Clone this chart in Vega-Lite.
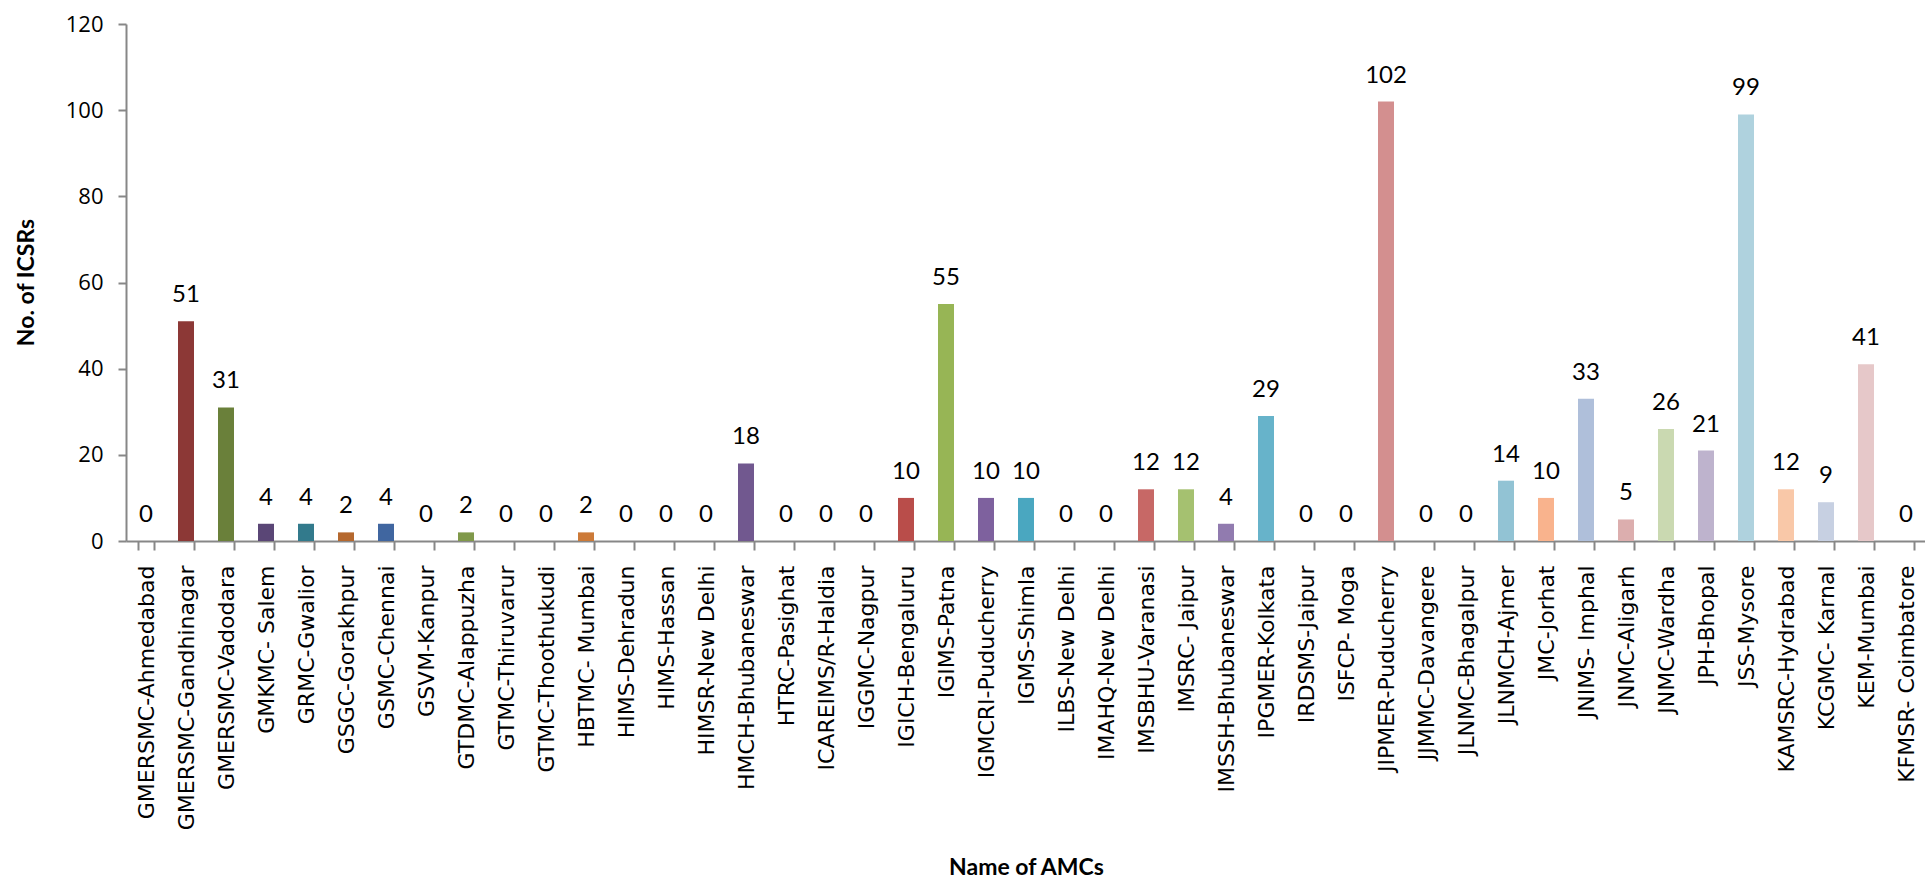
{
  "$schema": "https://vega.github.io/schema/vega-lite/v6.json",
  "width": 1800,
  "height": 517,
  "autosize": "none",
  "padding": {"left": 126, "top": 24, "right": 0, "bottom": 337},
  "background": "white",
  "config": {"view": {"stroke": null}},
  "data": {
    "values": [
      {"name": "GMERSMC-Ahmedabad", "icsrs": 0},
      {"name": "GMERSMC-Gandhinagar", "icsrs": 51},
      {"name": "GMERSMC-Vadodara", "icsrs": 31},
      {"name": "GMKMC- Salem", "icsrs": 4},
      {"name": "GRMC-Gwalior", "icsrs": 4},
      {"name": "GSGC-Gorakhpur", "icsrs": 2},
      {"name": "GSMC-Chennai", "icsrs": 4},
      {"name": "GSVM-Kanpur", "icsrs": 0},
      {"name": "GTDMC-Alappuzha", "icsrs": 2},
      {"name": "GTMC-Thiruvarur", "icsrs": 0},
      {"name": "GTMC-Thoothukudi", "icsrs": 0},
      {"name": "HBTMC- Mumbai", "icsrs": 2},
      {"name": "HIMS-Dehradun", "icsrs": 0},
      {"name": "HIMS-Hassan", "icsrs": 0},
      {"name": "HIMSR-New Delhi", "icsrs": 0},
      {"name": "HMCH-Bhubaneswar", "icsrs": 18},
      {"name": "HTRC-Pasighat", "icsrs": 0},
      {"name": "ICAREIMS/R-Haldia", "icsrs": 0},
      {"name": "IGGMC-Nagpur", "icsrs": 0},
      {"name": "IGICH-Bengaluru", "icsrs": 10},
      {"name": "IGIMS-Patna", "icsrs": 55},
      {"name": "IGMCRI-Puducherry", "icsrs": 10},
      {"name": "IGMS-Shimla", "icsrs": 10},
      {"name": "ILBS-New Delhi", "icsrs": 0},
      {"name": "IMAHQ-New Delhi", "icsrs": 0},
      {"name": "IMSBHU-Varanasi", "icsrs": 12},
      {"name": "IMSRC- Jaipur", "icsrs": 12},
      {"name": "IMSSH-Bhubaneswar", "icsrs": 4},
      {"name": "IPGMER-Kolkata", "icsrs": 29},
      {"name": "IRDSMS-Jaipur", "icsrs": 0},
      {"name": "ISFCP- Moga", "icsrs": 0},
      {"name": "JIPMER-Puducherry", "icsrs": 102},
      {"name": "JJMMC-Davangere", "icsrs": 0},
      {"name": "JLNMC-Bhagalpur", "icsrs": 0},
      {"name": "JLNMCH-Ajmer", "icsrs": 14},
      {"name": "JMC-Jorhat", "icsrs": 10},
      {"name": "JNIMS- Imphal", "icsrs": 33},
      {"name": "JNMC-Aligarh", "icsrs": 5},
      {"name": "JNMC-Wardha", "icsrs": 26},
      {"name": "JPH-Bhopal", "icsrs": 21},
      {"name": "JSS-Mysore", "icsrs": 99},
      {"name": "KAMSRC-Hydrabad", "icsrs": 12},
      {"name": "KCGMC- Karnal", "icsrs": 9},
      {"name": "KEM-Mumbai", "icsrs": 41},
      {"name": "KFMSR- Coimbatore", "icsrs": 0}
    ]
  },
  "encoding": {
    "x": {
      "field": "name",
      "type": "nominal",
      "sort": null,
      "scale": {"paddingInner": 0.6, "paddingOuter": 0.3},
      "axis": {
        "title": "Name of AMCs",
        "titleFont": "Lato",
        "titleFontWeight": "bold",
        "titleFontSize": 23,
        "titleColor": "#000000",
        "titleX": 900,
        "titleY": 333,
        "titleAlign": "center",
        "titleBaseline": "alphabetic",
        "labelAngle": -90,
        "labelAlign": "right",
        "labelBaseline": "middle",
        "labelFont": "DejaVu Sans",
        "labelFontSize": 22,
        "labelColor": "#000000",
        "labelPadding": 15,
        "labelLimit": 0,
        "labelOverlap": false,
        "tickBand": "extent",
        "tickSize": 9,
        "tickWidth": 2,
        "tickColor": "#878787",
        "domainColor": "#878787",
        "domainWidth": 2
      }
    }
  },
  "layer": [
    {
      "mark": {"type": "bar"},
      "encoding": {
        "y": {
          "field": "icsrs",
          "type": "quantitative",
          "scale": {"domain": [0, 120], "nice": false},
          "axis": {
            "title": "No. of ICSRs",
            "titleFont": "Lato",
            "titleFontWeight": "bold",
            "titleFontSize": 23,
            "titleColor": "#000000",
            "titleAngle": -90,
            "titleX": -93,
            "titleY": 258,
            "titleAlign": "center",
            "titleBaseline": "alphabetic",
            "values": [0, 20, 40, 60, 80, 100, 120],
            "grid": false,
            "labelFont": "Open Sans",
            "labelFontSize": 22,
            "labelColor": "#000000",
            "labelPadding": 15,
            "tickSize": 8,
            "tickWidth": 2,
            "tickColor": "#878787",
            "domainColor": "#878787",
            "domainWidth": 2
          }
        },
        "color": {
          "field": "name",
          "type": "nominal",
          "legend": null,
          "scale": {
            "domain": ["GMERSMC-Ahmedabad","GMERSMC-Gandhinagar","GMERSMC-Vadodara","GMKMC- Salem","GRMC-Gwalior","GSGC-Gorakhpur","GSMC-Chennai","GSVM-Kanpur","GTDMC-Alappuzha","GTMC-Thiruvarur","GTMC-Thoothukudi","HBTMC- Mumbai","HIMS-Dehradun","HIMS-Hassan","HIMSR-New Delhi","HMCH-Bhubaneswar","HTRC-Pasighat","ICAREIMS/R-Haldia","IGGMC-Nagpur","IGICH-Bengaluru","IGIMS-Patna","IGMCRI-Puducherry","IGMS-Shimla","ILBS-New Delhi","IMAHQ-New Delhi","IMSBHU-Varanasi","IMSRC- Jaipur","IMSSH-Bhubaneswar","IPGMER-Kolkata","IRDSMS-Jaipur","ISFCP- Moga","JIPMER-Puducherry","JJMMC-Davangere","JLNMC-Bhagalpur","JLNMCH-Ajmer","JMC-Jorhat","JNIMS- Imphal","JNMC-Aligarh","JNMC-Wardha","JPH-Bhopal","JSS-Mysore","KAMSRC-Hydrabad","KCGMC- Karnal","KEM-Mumbai","KFMSR- Coimbatore"],
            "range": ["#385D8A","#8C3836","#6A803A","#5A4676","#327A8C","#B5682E","#4066A0","#B24A48","#80994A","#6F5790","#3F9AB1","#CC7A38","#4F81BD","#C0504D","#9BBB59","#71588F","#4BACC6","#F79646","#5B8ACB","#B94D4A","#97B555","#7E619E","#4AA7C0","#F6A05E","#7C9CD1","#C76866","#A5C170","#917BAF","#67B3CA","#F8A773","#95ADD5","#D38F8F","#B7CE8D","#A897BF","#92C3D4","#F9B38D","#AFBFDA","#DCAEAE","#CAD9B1","#BEB3CD","#AFD2DE","#F9C8A8","#C7D0E2","#E6C8C9","#D8E4BC"]
          }
        }
      }
    },
    {
      "mark": {"type": "text", "baseline": "alphabetic", "dy": -19, "font": "Lato", "fontSize": 24, "color": "#000000"},
      "encoding": {
        "y": {"field": "icsrs", "type": "quantitative"},
        "text": {"field": "icsrs", "type": "quantitative"}
      }
    }
  ]
}
